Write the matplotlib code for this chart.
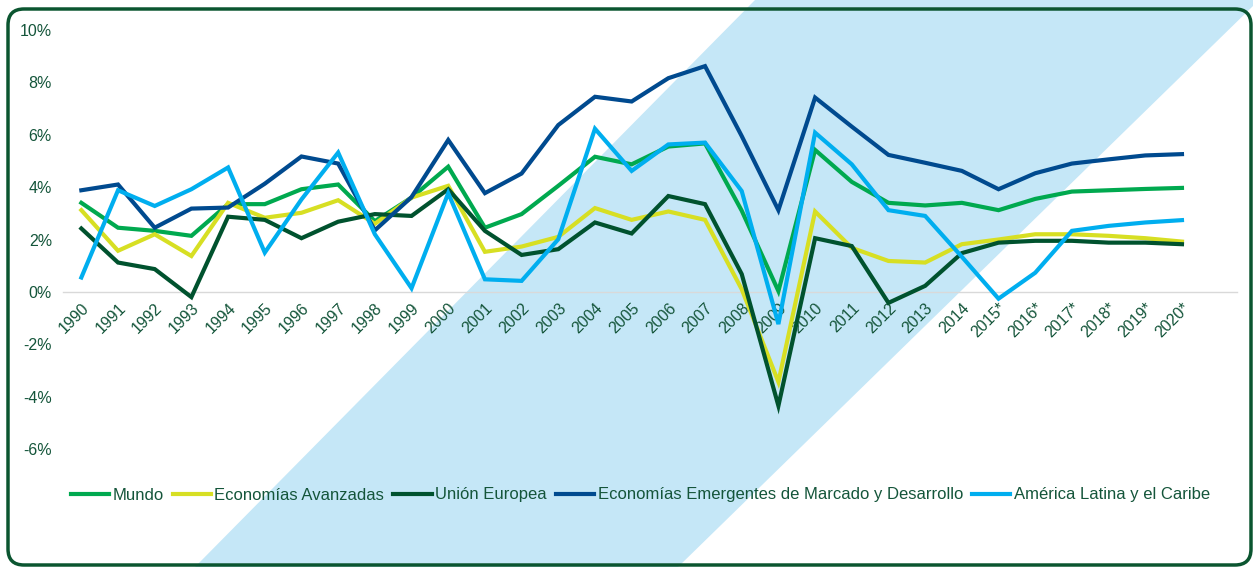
import matplotlib
matplotlib.use('Agg')
from matplotlib import pyplot as plt
from matplotlib.patches import Polygon, FancyBboxPatch
from matplotlib.ticker import FuncFormatter

# datos (crecimiento del PIB, %)
years = ['1990', '1991', '1992', '1993', '1994', '1995', '1996', '1997', '1998', '1999',
         '2000', '2001', '2002', '2003', '2004', '2005', '2006', '2007', '2008', '2009',
         '2010', '2011', '2012', '2013', '2014', '2015*', '2016*', '2017*', '2018*', '2019*', '2020*']

mundo = [3.40, 2.45, 2.33, 2.14, 3.35, 3.35, 3.92, 4.10, 2.70, 3.60,
         4.78, 2.45, 2.97, 4.05, 5.16, 4.87, 5.55, 5.67, 3.10, 0.03,
         5.42, 4.20, 3.40, 3.30, 3.40, 3.12, 3.55, 3.83, 3.88, 3.93, 3.97]

avanzadas = [3.12, 1.57, 2.20, 1.37, 3.40, 2.83, 3.02, 3.50, 2.60, 3.60,
             4.05, 1.53, 1.73, 2.10, 3.20, 2.75, 3.07, 2.75, 0.10, -3.44,
             3.07, 1.68, 1.18, 1.12, 1.82, 2.00, 2.20, 2.20, 2.14, 2.05, 1.92]

union_europea = [2.42, 1.12, 0.87, -0.20, 2.87, 2.75, 2.05, 2.68, 2.97, 2.90,
                 3.92, 2.33, 1.41, 1.63, 2.65, 2.23, 3.66, 3.35, 0.68, -4.35,
                 2.05, 1.75, -0.42, 0.23, 1.48, 1.88, 1.95, 1.95, 1.88, 1.88, 1.82]

emergentes = [3.88, 4.10, 2.45, 3.18, 3.22, 4.13, 5.17, 4.90, 2.35, 3.62,
              5.80, 3.77, 4.52, 6.37, 7.45, 7.27, 8.16, 8.62, 5.95, 3.12,
              7.42, 6.31, 5.23, 4.93, 4.62, 3.92, 4.53, 4.90, 5.06, 5.21, 5.26]

america_latina = [0.55, 3.88, 3.28, 3.92, 4.75, 1.50, 3.53, 5.32, 2.20, 0.14,
                  3.77, 0.48, 0.42, 2.01, 6.23, 4.62, 5.63, 5.70, 3.85, -1.23,
                  6.08, 4.87, 3.12, 2.90, 1.34, -0.26, 0.73, 2.33, 2.52, 2.65, 2.74]

series = [
    ('Mundo', mundo, '#00A94F'),
    ('Economías Avanzadas', avanzadas, '#D7DF23'),
    ('Unión Europea', union_europea, '#00522E'),
    ('Economías Emergentes de Marcado y Desarrollo', emergentes, '#004A8F'),
    ('América Latina y el Caribe', america_latina, '#00AEEF'),
]

txt_color = '#14553A'
plt.rcParams['font.family'] = ['Liberation Sans', 'DejaVu Sans']

fig = plt.figure(figsize=(12.53, 5.67), dpi=100)
W, H = 1253, 567

# fondo: franja diagonal y borde redondeado
bg = fig.add_axes([0, 0, 1, 1], zorder=-1)
bg.set_xlim(0, W)
bg.set_ylim(H, 0)
bg.axis('off')
bg.add_patch(Polygon([(195, H), (755, 0), (W, 0), (W, 6), (678, H)],
                     closed=True, facecolor='#C5E7F7', edgecolor='none'))
bg.add_patch(FancyBboxPatch((8, 9), 1243, 556,
                            boxstyle='round,pad=0,rounding_size=16',
                            facecolor='none', edgecolor='#0B5530', linewidth=2.5))

ax = fig.add_axes([63 / W, 1 - 449 / H, (1237 - 63) / W, (449 - 30) / H])
ax.patch.set_alpha(0)

x = list(range(len(years)))
for name, vals, col in series:
    ax.plot(x, vals, color=col, lw=3, label=name, solid_joinstyle='miter', zorder=3)

ax.set_xlim(-0.5, len(years) + 0.5)
ax.set_ylim(-6, 10)
ax.set_yticks(range(-6, 11, 2))
ax.yaxis.set_major_formatter(FuncFormatter(lambda v, p: '%d%%' % v))

for s in ['top', 'right', 'left']:
    ax.spines[s].set_visible(False)
ax.spines['bottom'].set_position(('data', 0))
ax.spines['bottom'].set_color('#D9D9D9')
ax.spines['bottom'].set_linewidth(1)
ax.spines['bottom'].set_zorder(2)

ax.set_xticks(x)
ax.set_xticklabels(years, rotation=45, ha='right', rotation_mode='anchor')
ax.tick_params(axis='both', length=0, labelsize=11.5, labelcolor=txt_color)
ax.tick_params(axis='x', pad=6)
ax.tick_params(axis='y', pad=8)

fig.legend(loc='center', bbox_to_anchor=(0.511, 1 - 495 / H), ncol=5, frameon=False,
           fontsize=12, labelcolor=txt_color, handlelength=2.3, handletextpad=0.2,
           columnspacing=0.55)

fig.savefig('out.png', dpi=100)
